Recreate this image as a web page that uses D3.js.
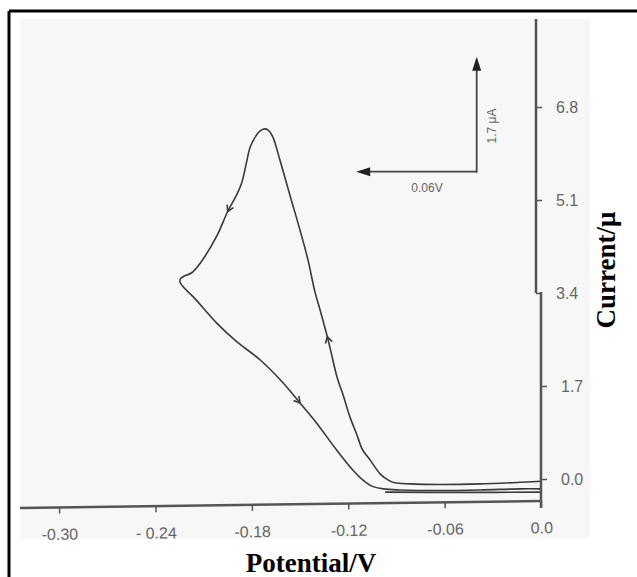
<!DOCTYPE html>
<html lang="en">
<head>
<meta charset="UTF-8">
<script src="https://d3js.org/d3.v7.min.js"></script>
<title>voltammogram</title>
<style>
  body { margin: 0; background: #fff; }
  svg { display: block; }
</style>
</head>
<body>
<div id="chart"></div>
<script>
// forward sweep: starts at 0 V, rises through the peak, back to the switching point
const fwdV = [0, -0.013, -0.038, -0.063, -0.0815, -0.091, -0.095, -0.100, -0.1064, -0.111, -0.115, -0.119,
  -0.123, -0.127, -0.131, -0.133, -0.1375, -0.1407, -0.145, -0.150, -0.156, -0.1625, -0.167, -0.170,
  -0.172, -0.175, -0.177, -0.181, -0.183, -0.1863, -0.190, -0.195, -0.202, -0.212, -0.2174, -0.222, -0.2243];
const fwdI = [-0.04, -0.06, -0.09, -0.10, -0.09, -0.07, -0.02, 0.09, 0.35, 0.53, 0.84, 1.14,
  1.52, 1.87, 2.36, 2.60, 3.09, 3.42, 4.00, 4.55, 5.16, 5.83, 6.26, 6.38,
  6.40, 6.36, 6.29, 6.07, 5.83, 5.41, 5.16, 4.89, 4.43, 3.95, 3.77, 3.71, 3.67];
// reverse sweep back to 0 V
const revV = [-0.2243, -0.2247, -0.222, -0.2164, -0.2018, -0.1894, -0.1749, -0.1606, -0.150, -0.1396,
  -0.1272, -0.117, -0.1108, -0.1052, -0.098, -0.0878, -0.063, -0.038, -0.013, 0];
const revI = [3.67, 3.60, 3.49, 3.33, 2.85, 2.51, 2.18, 1.76, 1.39, 1.02,
  0.53, 0.16, -0.02, -0.13, -0.18, -0.20, -0.21, -0.20, -0.18, -0.18];
// faint base line under the loop
const baseV = [-0.097, -0.05, 0];
const baseI = [-0.24, -0.245, -0.24];

// arrows on the trace: [branch, index] -> direction taken from neighbours
const arrowMarks = [["fwd", 31], ["fwd", 15], ["rev", 8]];

const xTicks = [-0.30, -0.24, -0.18, -0.12, -0.06, 0.0];
const xTickLabels = ["-0.30", "- 0.24", "-0.18", "-0.12", "-0.06", "0.0"];
const yTicksUpper = [3.4, 5.1, 6.8];
const yTicksLower = [0.0, 1.7];

const W = 637, H = 577;
const svg = d3.select("#chart").append("svg").attr("width", W).attr("height", H);

// scanned figure area
svg.append("rect").attr("x", 20).attr("y", 19).attr("width", 570).attr("height", 520).attr("fill", "#f7f7f7");

// frame lines (top + left)
svg.append("line").attr("x1", 9).attr("y1", 11).attr("x2", W).attr("y2", 11).attr("stroke", "#000").attr("stroke-width", 3);
svg.append("line").attr("x1", 9).attr("y1", 11).attr("x2", 9).attr("y2", H).attr("stroke", "#000").attr("stroke-width", 3);

const x = d3.scaleLinear().domain([-0.30, 0]).range([59, 541]);
const y = d3.scaleLinear().domain([0, 6.8]).range([479, 107]);

const toPts = (vs, is) => vs.map((v, i) => [v, is[i]]);
const fwd = toPts(fwdV, fwdI), rev = toPts(revV, revI), base = toPts(baseV, baseI);
const line = d3.line().x(d => x(d[0])).y(d => y(d[1])).curve(d3.curveCatmullRom.alpha(0.5));

const traceColor = "#3a3a3a";
[fwd, rev, base].forEach(p => {
  svg.append("path").attr("d", line(p)).attr("fill", "none")
    .attr("stroke", traceColor).attr("stroke-width", 1.6);
});

// direction chevrons
arrowMarks.forEach(([b, k]) => {
  const p = b === "fwd" ? fwd : rev;
  const a = p[k - 1], c = p[k + 1], m = p[k];
  const ang = Math.atan2(y(c[1]) - y(a[1]), x(c[0]) - x(a[0])) * 180 / Math.PI;
  svg.append("path")
    .attr("d", "M-6,-3.5L0,0L-6,3.5")
    .attr("transform", `translate(${x(m[0])},${y(m[1])}) rotate(${ang})`)
    .attr("fill", "none").attr("stroke", traceColor).attr("stroke-width", 1.6);
});

const axisColor = "#555";
const tickFont = "Liberation Sans, Arial, sans-serif";

// y axis: two slightly offset segments as in the scan
const yTop = y.invert(19), yBot = y.invert(508);
svg.append("line").attr("x1", x(0) - 5).attr("x2", x(0) - 5).attr("y1", y(yTop)).attr("y2", y(3.4))
  .attr("stroke", axisColor).attr("stroke-width", 2.5);
svg.append("line").attr("x1", x(0)).attr("x2", x(0)).attr("y1", y(3.4) - 1).attr("y2", y(yBot))
  .attr("stroke", axisColor).attr("stroke-width", 2.5);

function yAxisGroup(ticks, dx) {
  const g = svg.append("g").attr("transform", `translate(${x(0) + dx},0)`)
    .call(d3.axisRight(y).tickValues(ticks).tickFormat(d3.format(".1f")).tickSize(6).tickPadding(14));
  g.select(".domain").remove();
  g.selectAll(".tick line").attr("stroke", axisColor).attr("stroke-width", 1.5);
  g.selectAll(".tick text").attr("fill", "#666").style("font-family", tickFont).style("font-size", "16px");
}
yAxisGroup(yTicksUpper, -5);
yAxisGroup(yTicksLower, 0);

// x axis, slightly tilted like the scan
const xg = svg.append("g").attr("transform", `rotate(-0.77,${x(0)},501) translate(0,501)`);
xg.call(d3.axisBottom(x).tickValues(xTicks).tickFormat((d, i) => xTickLabels[i]).tickSize(6).tickPadding(15));
xg.select(".domain").remove();
xg.append("line").attr("x1", 20).attr("x2", x(0)).attr("y1", 0).attr("y2", 0)
  .attr("stroke", axisColor).attr("stroke-width", 2.5);
xg.selectAll(".tick line").attr("stroke", axisColor).attr("stroke-width", 1.5);
xg.selectAll(".tick text").attr("fill", "#666").style("font-family", tickFont).style("font-size", "16px");

// scale bar (0.06 V by 1.7 uA)
const sbX = 476.7, sbY = 171.7;
const sbLeft = sbX - (x(0) - x(-0.075)), sbTop = sbY - (y(0) - y(2.1));
svg.append("line").attr("x1", sbX).attr("y1", sbY).attr("x2", sbLeft + 8).attr("y2", sbY)
  .attr("stroke", "#444").attr("stroke-width", 1.8);
svg.append("line").attr("x1", sbX).attr("y1", sbY + 1).attr("x2", sbX).attr("y2", sbTop + 10)
  .attr("stroke", "#444").attr("stroke-width", 1.8);
svg.append("path").attr("d", `M${sbLeft},${sbY}L${sbLeft + 14},${sbY - 4.5}L${sbLeft + 14},${sbY + 4.5}Z`).attr("fill", "#222");
svg.append("path").attr("d", `M${sbX},${sbTop}L${sbX - 4.5},${sbTop + 14}L${sbX + 4.5},${sbTop + 14}Z`).attr("fill", "#222");
svg.append("text").attr("x", 427).attr("y", 192).attr("text-anchor", "middle")
  .style("font-family", tickFont).style("font-size", "12px").attr("fill", "#666").text("0.06V");
svg.append("text").attr("transform", "translate(496,126) rotate(-90)").attr("text-anchor", "middle")
  .style("font-family", tickFont).style("font-size", "12px").attr("fill", "#666").text("1.7 μA");

// axis titles
const titleFont = "Liberation Serif, Times New Roman, serif";
svg.append("text").attr("x", 311).attr("y", 572).attr("text-anchor", "middle")
  .style("font-family", titleFont).style("font-weight", "bold").style("font-size", "27px").text("Potential/V");
svg.append("text").attr("transform", "translate(615,270) rotate(-90)").attr("text-anchor", "middle")
  .style("font-family", titleFont).style("font-weight", "bold").style("font-size", "27px").text("Current/μ");
</script>
</body>
</html>
